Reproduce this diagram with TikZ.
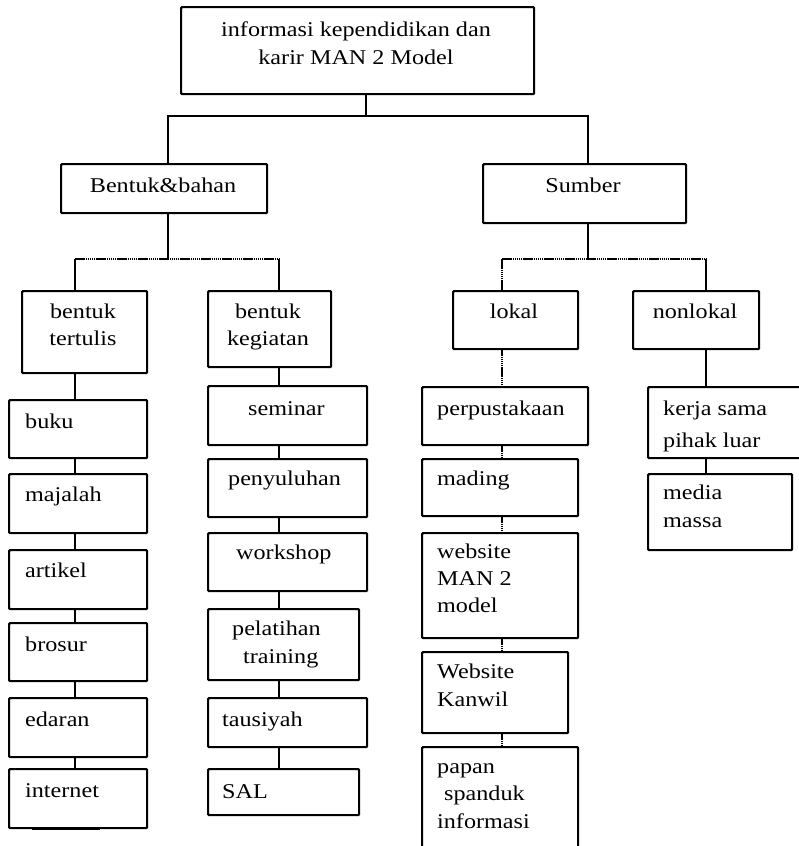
\documentclass[tikz,border=0pt]{standalone}
\usepackage{fontspec}
\setmainfont{Liberation Serif}[FakeStretch=1.15]
\newcommand\bx[5]{\node[box, minimum width={(#4-#2)*1pt}, minimum height={(#5-#3)*1pt}] (#1) at (#2,#3) {};}
\begin{document}
\begin{tikzpicture}[x=1pt,y=-1pt,
  box/.style={draw, line width=2.2pt, rounded corners=1pt, inner sep=0pt, anchor=north west},
  tl/.style={anchor=base west, inner sep=0pt, font=\fontsize{21}{25}\selectfont},
  tc/.style={anchor=base, inner sep=0pt, font=\fontsize{21}{25}\selectfont},
  conn/.style={line width=1.4pt},
  dotc/.style={line width=1.4pt, dash pattern=on 1.5pt off 0.6pt}]
\useasboundingbox (0,0) rectangle (798,846);
\fill[white] (0,0) rectangle (798,846);
% boxes
\bx{top}{180}{6}{533}{93}
\bx{bb}{60}{163}{266}{212}
\bx{sumber}{482}{163}{685}{222}
\bx{tertulis}{21}{290}{146}{372}
\bx{kegiatan}{207}{290}{330}{366}
\bx{lokal}{452}{290}{577}{348}
\bx{nonlokal}{632}{290}{758}{348}
\bx{buku}{8}{399}{146}{457}
\bx{majalah}{8}{473}{146}{532}
\bx{artikel}{8}{549}{146}{608}
\bx{brosur}{8}{622}{146}{680}
\bx{edaran}{8}{697}{146}{756}
\bx{internet}{8}{768}{146}{827}
\bx{seminar}{207}{385}{366}{444}
\bx{penyuluhan}{207}{458}{366}{516}
\bx{workshop}{207}{532}{366}{590}
\bx{pelatihan}{207}{608}{358}{679}
\bx{tausiyah}{207}{697}{366}{746}
\bx{sal}{207}{768}{358}{814}
\bx{perpus}{421}{386}{587}{444}
\bx{mading}{421}{458}{577}{515}
\bx{website}{421}{532}{577}{637}
\bx{kanwil}{421}{651}{567}{732}
\bx{papan}{421}{746}{577}{852}
\bx{kerja}{647}{386}{812}{457}
\bx{media}{647}{473}{791}{549}
% texts
\node[tc] (topA) at (356,36) {informasi kependidikan dan};
\node[tc] (topB) at (356,64) {karir MAN 2 Model};
\node[tc] (bbt) at (163,192) {Bentuk\&bahan};
\node[tc] (sumbert) at (583,192) {Sumber};
\node[tc] (tertA) at (83,318) {bentuk};
\node[tc] (tertB) at (83,345) {tertulis};
\node[tc] (kegA) at (268,318) {bentuk};
\node[tc] (kegB) at (268,345) {kegiatan};
\node[tc] (lokalt) at (514,318) {lokal};
\node[tc] (nonlokalt) at (695,318) {nonlokal};
\node[tl] (bukut) at (25,428) {buku};
\node[tl] (majalaht) at (25,501) {majalah};
\node[tl] (artikelt) at (25,577) {artikel};
\node[tl] (brosurt) at (25,651) {brosur};
\node[tl] (edarant) at (25,726) {edaran};
\node[tl] (internett) at (25,797) {internet};
\node[tl] (seminart) at (248,415) {seminar};
\node[tl] (penyuluhant) at (228,485) {penyuluhan};
\node[tl] (workshopt) at (236,559) {workshop};
\node[tl] (pelatA) at (232,635) {pelatihan};
\node[tl] (pelatB) at (243,663) {training};
\node[tl] (tausiyaht) at (222,726) {tausiyah};
\node[tl] (salt) at (222,798) {SAL};
\node[tl] (perpust) at (437,415) {perpustakaan};
\node[tl] (madingt) at (437,485) {mading};
\node[tl] (webA) at (437,558) {website};
\node[tl] (webB) at (437,585) {MAN 2};
\node[tl] (webC) at (437,612) {model};
\node[tl] (kanA) at (437,678) {Website};
\node[tl] (kanB) at (437,706) {Kanwil};
\node[tl] (papA) at (437,773) {papan};
\node[tl] (papB) at (444,800) {spanduk};
\node[tl] (papC) at (437,828) {informasi};
\node[tl] (kerjaA) at (663,415) {kerja sama};
\node[tl] (kerjaB) at (663,447) {pihak luar};
\node[tl] (mediaA) at (663,499) {media};
\node[tl] (mediaB) at (663,527) {massa};
% junctions
\coordinate (j0) at (366,116);
\coordinate (jL) at (168,116);
\coordinate (jR) at (588,116);
\coordinate (b1) at (168,259);
\coordinate (b1L) at (75,259);
\coordinate (b1R) at (279,259);
\coordinate (b2) at (588,259);
\coordinate (b2L) at (502,259);
\coordinate (b2R) at (706,259);
% connectors
\draw[conn] (top.south -| j0) -- (j0);
\draw[conn] (bb.north -| jL) -- (jL) -- (jR) -- (sumber.north -| jR);
\draw[conn] (bb.south -| b1) -- (b1);
\draw[dotc] (b1L) -- (b1R);
\draw[conn] (b1L) -- (tertulis.north -| b1L);
\draw[conn] (b1R) -- (kegiatan.north -| b1R);
\draw[conn] (sumber.south -| b2) -- (b2);
\draw[dotc] (b2L) -- (b2R);
\draw[dotc] (b2L) -- (lokal.north -| b2L);
\draw[conn] (b2R) -- (nonlokal.north -| b2R);
\foreach \a/\b in {tertulis/buku, buku/majalah, majalah/artikel, artikel/brosur, brosur/edaran, edaran/internet}
  \draw[conn] (\a.south -| b1L) -- (\b.north -| b1L);
\foreach \a/\b in {kegiatan/seminar, seminar/penyuluhan, penyuluhan/workshop, workshop/pelatihan, pelatihan/tausiyah, tausiyah/sal}
  \draw[conn] (\a.south -| b1R) -- (\b.north -| b1R);
\foreach \a/\b in {lokal/perpus, perpus/mading, mading/website, website/kanwil, kanwil/papan}
  \draw[dotc] (\a.south -| b2L) -- (\b.north -| b2L);
\foreach \a/\b in {nonlokal/kerja, kerja/media}
  \draw[conn] (\a.south -| b2R) -- (\b.north -| b2R);
% stray thick stroke under the internet box
\draw[line width=2.5pt] (32,829) -- (100,829);
\end{tikzpicture}
\end{document}
